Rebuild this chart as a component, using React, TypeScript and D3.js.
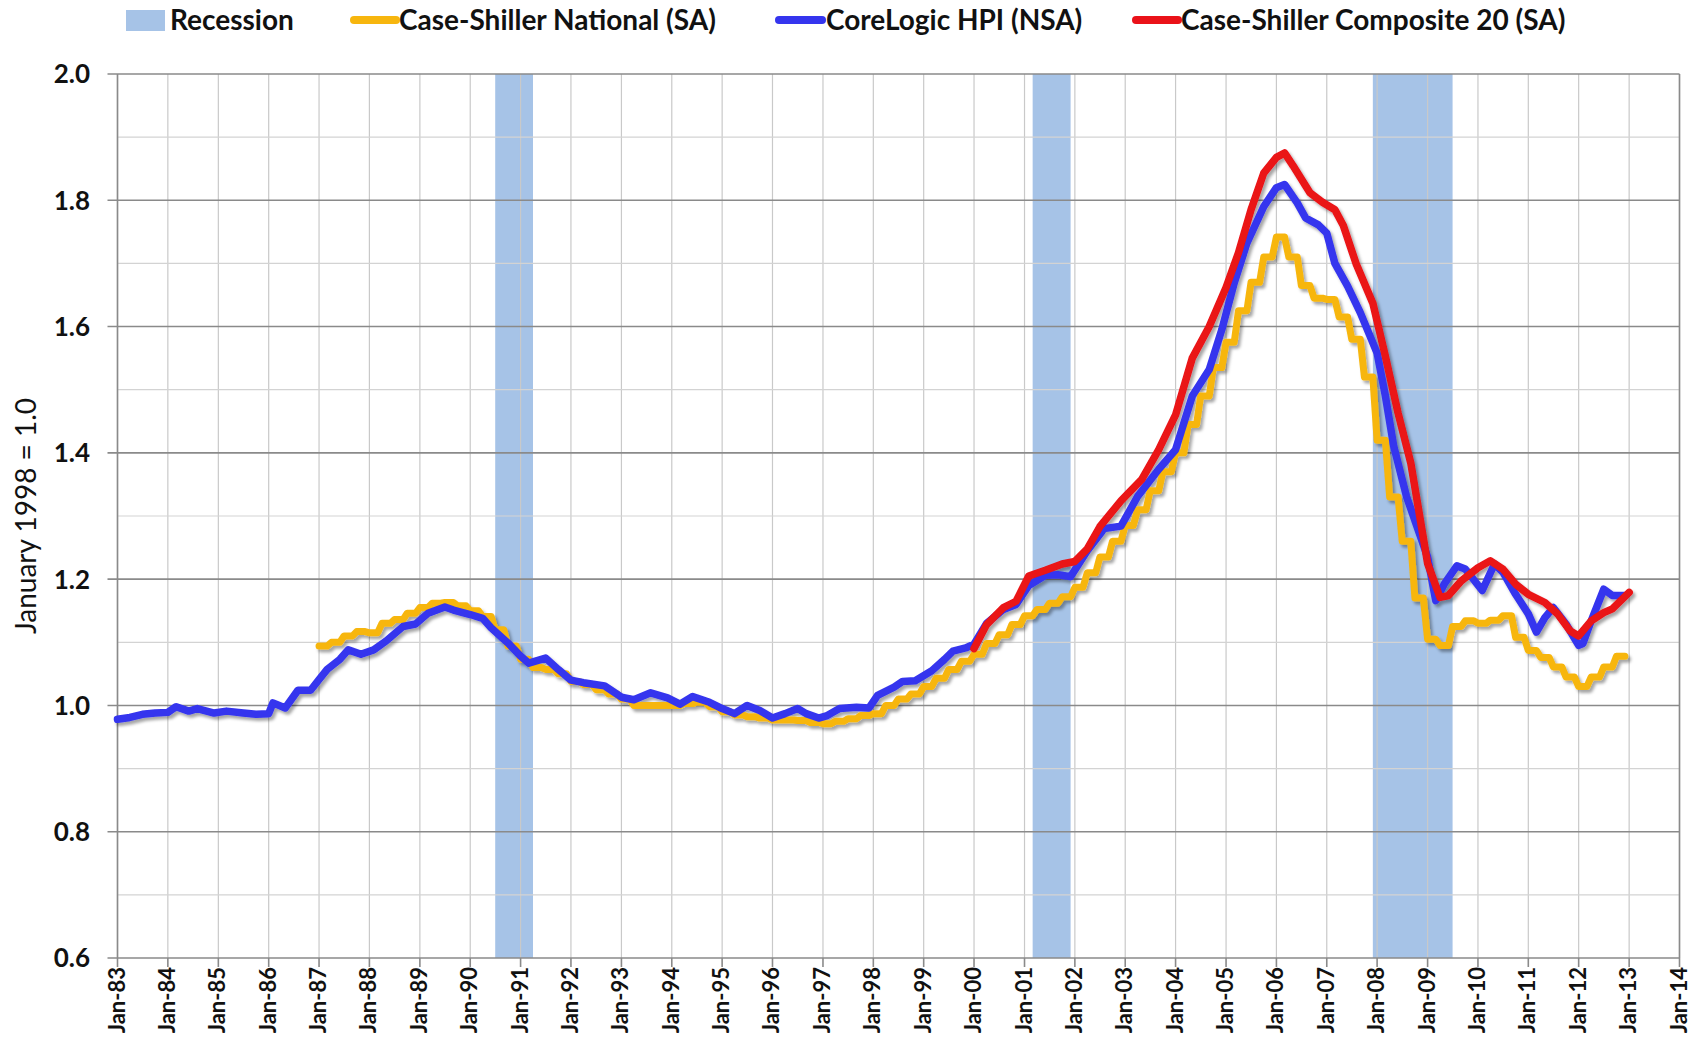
import * as d3 from "d3";

// Recessions: [start month, month after trough]
const recessions: [string, string][] = [
  ["1990-07", "1991-04"],
  ["2001-03", "2001-12"],
  ["2007-12", "2009-07"],
];

// Case-Shiller National (SA), quarterly
const csNational: [string, number][] = [
  ["1987-01", 1.094], ["1987-04", 1.1], ["1987-07", 1.11], ["1987-10", 1.117],
  ["1988-01", 1.115], ["1988-04", 1.13], ["1988-07", 1.136], ["1988-10", 1.146],
  ["1989-01", 1.155], ["1989-04", 1.162], ["1989-07", 1.163], ["1989-10", 1.158],
  ["1990-01", 1.15], ["1990-04", 1.141], ["1990-07", 1.12], ["1990-10", 1.094],
  ["1991-01", 1.073], ["1991-04", 1.06], ["1991-07", 1.057], ["1991-10", 1.05],
  ["1992-01", 1.038], ["1992-04", 1.033], ["1992-07", 1.025], ["1992-10", 1.018],
  ["1993-01", 1.01], ["1993-04", 1.0], ["1993-07", 1.0], ["1993-10", 1.0],
  ["1994-01", 1.0], ["1994-04", 1.003], ["1994-07", 1.005], ["1994-10", 0.998],
  ["1995-01", 0.99], ["1995-04", 0.985], ["1995-07", 0.982], ["1995-10", 0.98],
  ["1996-01", 0.977], ["1996-04", 0.977], ["1996-07", 0.976], ["1996-10", 0.973],
  ["1997-01", 0.971], ["1997-04", 0.975], ["1997-07", 0.979], ["1997-10", 0.984],
  ["1998-01", 0.987], ["1998-04", 1.0], ["1998-07", 1.01], ["1998-10", 1.018],
  ["1999-01", 1.03], ["1999-04", 1.043], ["1999-07", 1.057], ["1999-10", 1.07],
  ["2000-01", 1.081], ["2000-04", 1.098], ["2000-07", 1.112], ["2000-10", 1.128],
  ["2001-01", 1.142], ["2001-04", 1.152], ["2001-07", 1.162], ["2001-10", 1.172],
  ["2002-01", 1.187], ["2002-04", 1.21], ["2002-07", 1.235], ["2002-10", 1.26],
  ["2003-01", 1.285], ["2003-04", 1.31], ["2003-07", 1.34], ["2003-10", 1.37],
  ["2004-01", 1.4], ["2004-04", 1.445], ["2004-07", 1.49], ["2004-10", 1.535],
  ["2005-01", 1.575], ["2005-04", 1.625], ["2005-07", 1.67], ["2005-10", 1.71],
  ["2006-01", 1.742], ["2006-04", 1.71], ["2006-07", 1.665], ["2006-10", 1.645],
  ["2007-01", 1.643], ["2007-04", 1.615], ["2007-07", 1.58], ["2007-10", 1.52],
  ["2008-01", 1.42], ["2008-04", 1.33], ["2008-07", 1.26], ["2008-10", 1.17],
  ["2009-01", 1.105], ["2009-04", 1.095], ["2009-07", 1.125], ["2009-10", 1.134],
  ["2010-01", 1.13], ["2010-04", 1.135], ["2010-07", 1.142], ["2010-10", 1.108],
  ["2011-01", 1.087], ["2011-04", 1.076], ["2011-07", 1.061], ["2011-10", 1.045],
  ["2012-01", 1.03], ["2012-04", 1.045], ["2012-07", 1.061], ["2012-10", 1.078],
];

// CoreLogic HPI (NSA)
const coreLogic: [string, number][] = [
  ["1983-01", 0.978], ["1983-04", 0.981], ["1983-07", 0.986], ["1983-10", 0.988],
  ["1984-01", 0.989], ["1984-03", 0.998], ["1984-06", 0.991], ["1984-08", 0.995],
  ["1984-12", 0.988], ["1985-03", 0.991], ["1985-07", 0.988], ["1985-10", 0.986],
  ["1986-01", 0.987], ["1986-02", 1.004], ["1986-05", 0.996], ["1986-08", 1.024],
  ["1986-11", 1.024], ["1987-01", 1.041], ["1987-03", 1.057], ["1987-06", 1.073],
  ["1987-08", 1.088], ["1987-11", 1.081], ["1988-02", 1.088], ["1988-05", 1.102],
  ["1988-09", 1.125], ["1988-12", 1.129], ["1989-03", 1.146], ["1989-07", 1.156],
  ["1989-09", 1.151], ["1990-01", 1.144], ["1990-04", 1.138], ["1990-06", 1.123],
  ["1990-10", 1.099], ["1991-01", 1.078], ["1991-03", 1.067], ["1991-07", 1.075],
  ["1991-10", 1.057], ["1992-01", 1.04], ["1992-04", 1.036], ["1992-09", 1.031],
  ["1993-01", 1.013], ["1993-04", 1.009], ["1993-08", 1.02], ["1993-12", 1.012],
  ["1994-03", 1.002], ["1994-06", 1.014], ["1994-10", 1.005], ["1995-01", 0.995],
  ["1995-04", 0.987], ["1995-07", 1.0], ["1995-10", 0.992], ["1996-01", 0.98],
  ["1996-04", 0.987], ["1996-07", 0.995], ["1996-09", 0.987], ["1996-12", 0.98],
  ["1997-02", 0.984], ["1997-05", 0.995], ["1997-09", 0.997], ["1997-12", 0.996],
  ["1998-02", 1.016], ["1998-06", 1.029], ["1998-08", 1.038], ["1998-11", 1.039],
  ["1999-03", 1.055], ["1999-06", 1.073], ["1999-08", 1.086], ["1999-11", 1.091],
  ["2000-01", 1.097], ["2000-04", 1.13], ["2000-08", 1.152], ["2000-11", 1.16],
  ["2001-02", 1.19], ["2001-06", 1.206], ["2001-09", 1.207], ["2001-12", 1.204],
  ["2002-04", 1.245], ["2002-08", 1.28], ["2002-12", 1.284], ["2003-04", 1.331],
  ["2003-09", 1.374], ["2004-01", 1.405], ["2004-05", 1.49], ["2004-09", 1.532],
  ["2004-12", 1.595], ["2005-03", 1.669], ["2005-06", 1.732], ["2005-10", 1.79],
  ["2006-01", 1.82], ["2006-03", 1.825], ["2006-06", 1.796], ["2006-08", 1.772],
  ["2006-11", 1.761], ["2007-01", 1.748], ["2007-03", 1.7], ["2007-06", 1.664],
  ["2007-09", 1.622], ["2008-01", 1.558], ["2008-03", 1.49], ["2008-05", 1.41],
  ["2008-08", 1.331], ["2009-01", 1.235], ["2009-03", 1.166], ["2009-05", 1.192],
  ["2009-08", 1.221], ["2009-10", 1.216], ["2010-02", 1.182], ["2010-05", 1.224],
  ["2010-07", 1.211], ["2010-10", 1.176], ["2011-01", 1.145], ["2011-03", 1.116],
  ["2011-05", 1.139], ["2011-07", 1.155], ["2011-10", 1.129], ["2012-01", 1.095],
  ["2012-02", 1.098], ["2012-04", 1.134], ["2012-07", 1.184], ["2012-09", 1.174],
  ["2012-12", 1.174],
];

// Case-Shiller Composite 20 (SA)
const csComposite20: [string, number][] = [
  ["2000-01", 1.09], ["2000-04", 1.128], ["2000-08", 1.155], ["2000-11", 1.165],
  ["2001-02", 1.205], ["2001-06", 1.214], ["2001-10", 1.224], ["2002-01", 1.228],
  ["2002-04", 1.248], ["2002-07", 1.283], ["2002-12", 1.324], ["2003-05", 1.358],
  ["2003-09", 1.405], ["2004-01", 1.46], ["2004-05", 1.55], ["2004-09", 1.6],
  ["2005-01", 1.662], ["2005-04", 1.717], ["2005-07", 1.785], ["2005-10", 1.843],
  ["2006-01", 1.868], ["2006-03", 1.875], ["2006-05", 1.855], ["2006-09", 1.812],
  ["2006-12", 1.797], ["2007-03", 1.785], ["2007-05", 1.76], ["2007-08", 1.7],
  ["2007-12", 1.637], ["2008-03", 1.553], ["2008-06", 1.463], ["2008-09", 1.384],
  ["2009-01", 1.225], ["2009-04", 1.171], ["2009-06", 1.174], ["2009-09", 1.197],
  ["2010-01", 1.218], ["2010-04", 1.229], ["2010-07", 1.216], ["2010-10", 1.192],
  ["2011-01", 1.176], ["2011-05", 1.163], ["2011-08", 1.145], ["2011-11", 1.118],
  ["2012-01", 1.11], ["2012-04", 1.134], ["2012-07", 1.147], ["2012-09", 1.153],
  ["2013-01", 1.179],
];

const yTicks = [0.6, 0.8, 1.0, 1.2, 1.4, 1.6, 1.8, 2.0];
const yMinor = [0.7, 0.9, 1.1, 1.3, 1.5, 1.7, 1.9];

const W = 1702;
const H = 1042;
const FONT = "Lato, 'Open Sans', sans-serif";

const COL_REC = "#a6c3e7";
const COL_YEL = "#f7b60e";
const COL_BLUE = "#3535ee";
const COL_RED = "#ea1219";

const parse = d3.timeParse("%Y-%m");

const App = () => {
  const x = d3
    .scaleTime()
    .domain([parse("1983-01")!, parse("2014-01")!])
    .range([117.5, 1679.5]);
  const y = d3.scaleLinear().domain([0.6, 2.0]).range([958, 74]);

  const years = d3.timeYear.range(parse("1983-01")!, parse("2014-02")!);
  const fmt = d3.timeFormat("Jan-%y");

  const line = d3
    .line<[Date, number]>()
    .x((d) => x(d[0]))
    .y((d) => y(d[1]));

  const toPts = (arr: [string, number][]) =>
    arr.map((d) => [parse(d[0])!, d[1]] as [Date, number]);

  // quarterly values repeated over the months of their quarter, so the
  // line rises in a sawtooth between quarters
  const yelPts = toPts(csNational).flatMap(
    (d) => [d, [d3.timeMonth.offset(d[0], 2), d[1]]] as [Date, number][]
  );

  const left = x.range()[0];
  const right = x.range()[1];

  return (
    <svg
      width={W}
      height={H}
      style={{ position: "absolute", left: 0, top: 0, background: "#fff" }}
      fontFamily={FONT}
    >
      <defs>
        <filter id="shadow" x="-5%" y="-10%" width="110%" height="130%">
          <feDropShadow dx="2.5" dy="3" stdDeviation="1.6" floodColor="#000" floodOpacity="0.35" />
        </filter>
      </defs>
      <rect width={W} height={H} fill="#fff" />

      {/* recession bands */}
      {recessions.map((r, i) => (
        <rect
          key={i}
          x={x(parse(r[0])!)}
          y={y(2.0)}
          width={x(parse(r[1])!) - x(parse(r[0])!)}
          height={y(0.6) - y(2.0)}
          fill={COL_REC}
        />
      ))}

      {/* grid */}
      {years.map((d, i) => (
        <line key={i} x1={x(d)} x2={x(d)} y1={y(2.0)} y2={y(0.6)} stroke="#c9c9c9" strokeWidth={1.2} />
      ))}
      {yMinor.map((v) => (
        <line key={v} x1={left} x2={right} y1={y(v)} y2={y(v)} stroke="#d3d3d3" strokeWidth={1.2} />
      ))}
      {yTicks.map((v) => (
        <line key={v} x1={left - 10} x2={right} y1={y(v)} y2={y(v)} stroke="#8a8a8a" strokeWidth={1.6} />
      ))}
      <line x1={left} x2={left} y1={y(2.0)} y2={y(0.6)} stroke="#8a8a8a" strokeWidth={1.6} />
      <line x1={right} x2={right} y1={y(2.0)} y2={y(0.6)} stroke="#8a8a8a" strokeWidth={1.6} />
      {years.map((d, i) => (
        <line key={i} x1={x(d)} x2={x(d)} y1={y(0.6)} y2={y(0.6) + 9} stroke="#8a8a8a" strokeWidth={1.6} />
      ))}

      {/* y labels */}
      {yTicks.map((v) => (
        <text
          key={v}
          x={90}
          y={y(v)}
          dy="0.36em"
          textAnchor="end"
          fontSize={26}
          fontWeight="bold"
          fill="#111"
        >
          {v.toFixed(1)}
        </text>
      ))}
      <text
        transform={`translate(36,${y(1.3)}) rotate(-90)`}
        textAnchor="middle"
        fontSize={28}
        fill="#111"
      >
        January 1998 = 1.0
      </text>

      {/* x labels */}
      {years.map((d, i) => (
        <text
          key={i}
          transform={`translate(${x(d) + 7},${y(0.6) + 9}) rotate(-90)`}
          textAnchor="end"
          fontSize={22}
          fontWeight="bold"
          fill="#111"
        >
          {fmt(d)}
        </text>
      ))}

      {/* series */}
      <g filter="url(#shadow)" fill="none" strokeLinejoin="round" strokeLinecap="round">
        <path d={line(yelPts)!} stroke={COL_YEL} strokeWidth={7} />
        <path d={line(toPts(coreLogic))!} stroke={COL_BLUE} strokeWidth={7.5} />
        <path d={line(toPts(csComposite20))!} stroke={COL_RED} strokeWidth={7.5} />
      </g>

      {/* legend */}
      <g fontSize={28} fontWeight="bold" fill="#111">
        <rect x={126} y={10} width={39} height={21} fill={COL_REC} />
        <text x={170} y={30}>Recession</text>
        <line x1={354} x2={396} y1={20} y2={20} stroke={COL_YEL} strokeWidth={8} strokeLinecap="round" />
        <text x={399} y={30}>Case-Shiller National (SA)</text>
        <line x1={779} x2={822} y1={20} y2={20} stroke={COL_BLUE} strokeWidth={8} strokeLinecap="round" />
        <text x={826} y={30}>CoreLogic HPI (NSA)</text>
        <line x1={1136} x2={1178} y1={20} y2={20} stroke={COL_RED} strokeWidth={8} strokeLinecap="round" />
        <text x={1181} y={30}>Case-Shiller Composite 20 (SA)</text>
      </g>
    </svg>
  );
};

export default App;
